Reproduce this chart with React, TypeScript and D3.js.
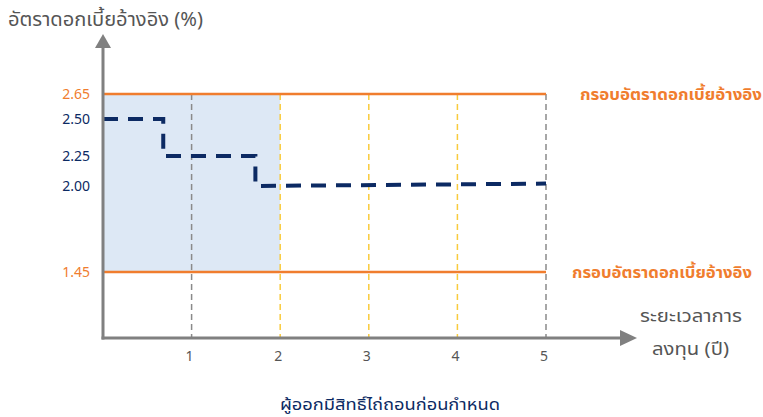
import React from "react";
import * as d3 from "d3";

const W = 763;
const H = 417;

const xTicks = [1, 2, 3, 4, 5];
const yTicks = [2.65, 2.5, 2.25, 2.0, 1.45];
const yTickLabels = ["2.65", "2.50", "2.25", "2.00", "1.45"];
const bandTicks = [2.65, 1.45];
const stepX = [0, 0.68, 0.68, 1.72, 1.72, 5];
const stepY = [2.5, 2.5, 2.25, 2.25, 2.0, 2.02];
const callableEnd = 2;
const yTitle = "อัตราดอกเบี้ยอ้างอิง (%)";
const xTitle1 = "ระยะเวลาการ";
const xTitle2 = "ลงทุน (ปี)";
const bandLabel = "กรอบอัตราดอกเบี้ยอ้างอิง";
const caption = "ผู้ออกมีสิทธิ์ไถ่ถอนก่อนกำหนด";

const ORANGE = "#f07d2e";
const NAVY = "#0c2a63";
const GRAY = "#808080";
const YELLOW = "#f9cb3c";
const FONT = "'Noto Sans', 'Noto Sans Thai', 'Open Sans', sans-serif";

export default function App() {
  const x = d3.scaleLinear().domain([0, 5]).range([103, 546]);
  const y = d3
    .scaleLinear()
    .domain([1.45, 2.0, 2.25, 2.5, 2.65])
    .range([272, 186, 156, 119, 94]);
  const y0 = 338;
  const x0 = x(0);

  const pts: [number, number][] = stepX.map((v, i) => [v, stepY[i]]);
  const line = d3
    .line<[number, number]>()
    .x((d) => x(d[0]))
    .y((d) => y(d[1]));

  return (
    <svg width={W} height={H} style={{ position: "absolute", left: 0, top: 0 }} fontFamily={FONT}>
      <rect
        x={x0}
        y={y(2.65)}
        width={x(callableEnd) - x0}
        height={y(1.45) - y(2.65)}
        fill="#dde8f5"
      />
      {xTicks.map((t) => (
        <line
          key={t}
          x1={x(t)}
          x2={x(t)}
          y1={y(2.65)}
          y2={y0}
          stroke={t === 1 || t === 5 ? "#8a8a8a" : YELLOW}
          strokeWidth={1.5}
          strokeDasharray="6,4"
        />
      ))}
      {bandTicks.map((t) => (
        <line key={t} x1={x0} x2={x(5)} y1={y(t)} y2={y(t)} stroke={ORANGE} strokeWidth={2.5} />
      ))}
      <path
        d={line(pts) || ""}
        fill="none"
        stroke={NAVY}
        strokeWidth={4}
        strokeDasharray="15,10"
      />
      <line x1={x0} x2={x0} y1={y0 + 1.5} y2={46} stroke={GRAY} strokeWidth={3} />
      <path d={`M${x0 - 8},48 L${x0},34 L${x0 + 8},48 Z`} fill={GRAY} />
      <line x1={x0 - 1.5} x2={622} y1={y0} y2={y0} stroke={GRAY} strokeWidth={3} />
      <path d={`M620,${y0 - 8} L637,${y0} L620,${y0 + 8} Z`} fill={GRAY} />
      {yTicks.map((t, i) => (
        <text
          key={t}
          x={90}
          y={y(t)}
          dy="0.35em"
          textAnchor="end"
          fontSize={14}
          fill={t === 2.65 || t === 1.45 ? ORANGE : NAVY}
        >
          {yTickLabels[i]}
        </text>
      ))}
      {xTicks.map((t) => (
        <text key={t} x={x(t) - 2} y={356} dy="0.35em" textAnchor="middle" fontSize={14} fill="#555">
          {t}
        </text>
      ))}
      <text x={8} y={26} fontSize={19} fill="#555" textLength={195} lengthAdjust="spacingAndGlyphs">
        {yTitle}
      </text>
      <text x={640} y={322} fontSize={18} fill="#555" textLength={102} lengthAdjust="spacingAndGlyphs">
        {xTitle1}
      </text>
      <text x={652} y={355} fontSize={18} fill="#555" textLength={77} lengthAdjust="spacingAndGlyphs">
        {xTitle2}
      </text>
      <text x={580} y={y(2.65)} dy="0.35em" fontSize={16} fontWeight="bold" fill={ORANGE} textLength={182} lengthAdjust="spacingAndGlyphs">
        {bandLabel}
      </text>
      <text x={572} y={y(1.45)} dy="0.35em" fontSize={16} fontWeight="bold" fill={ORANGE} textLength={180} lengthAdjust="spacingAndGlyphs">
        {bandLabel}
      </text>
      <text x={280} y={405} dy="0.35em" fontSize={15} fill={NAVY} textLength={220} lengthAdjust="spacingAndGlyphs">
        {caption}
      </text>
    </svg>
  );
}
